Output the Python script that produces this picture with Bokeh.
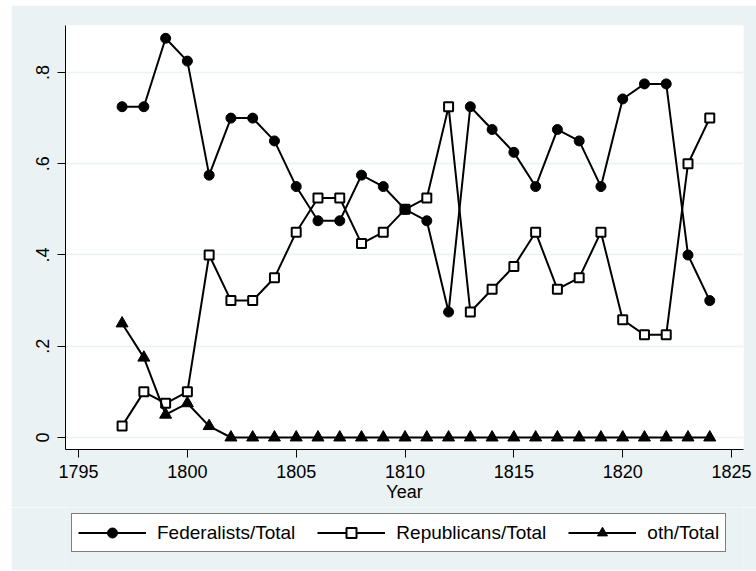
from bokeh.plotting import figure
from bokeh.models import Range1d, FixedTicker, Legend, LegendItem, ColumnDataSource
from bokeh.layouts import column
from bokeh.embed import file_html
from bokeh.resources import INLINE

years = [1797, 1798, 1799, 1800, 1801, 1802, 1803, 1804, 1805, 1806, 1807, 1808, 1809, 1810,
         1811, 1812, 1813, 1814, 1815, 1816, 1817, 1818, 1819, 1820, 1821, 1822, 1823, 1824]
federalists = [0.725, 0.725, 0.875, 0.825, 0.575, 0.70, 0.70, 0.65, 0.55, 0.475, 0.475, 0.575, 0.55, 0.50,
               0.475, 0.275, 0.725, 0.675, 0.625, 0.55, 0.675, 0.65, 0.55, 0.742, 0.775, 0.775, 0.40, 0.30]
republicans = [0.025, 0.10, 0.075, 0.10, 0.40, 0.30, 0.30, 0.35, 0.45, 0.525, 0.525, 0.425, 0.45, 0.50,
               0.525, 0.725, 0.275, 0.325, 0.375, 0.45, 0.325, 0.35, 0.45, 0.258, 0.225, 0.225, 0.60, 0.70]
others = [0.25, 0.175, 0.05, 0.075, 0.025, 0, 0, 0, 0, 0, 0, 0, 0, 0,
          0, 0, 0, 0, 0, 0, 0, 0, 0, 0, 0, 0, 0, 0]
series_names = ["Federalists/Total", "Republicans/Total", "oth/Total"]
x_ticks = [1795, 1800, 1805, 1810, 1815, 1820, 1825]
y_ticks = [0, 0.2, 0.4, 0.6, 0.8]
y_tick_labels = ["0", ".2", ".4", ".6", ".8"]
x_title = "Year"

BG = "#EAF2F3"
FONT = "Liberation Sans"

src = ColumnDataSource(dict(year=years, fed=federalists, rep=republicans, oth=others))


def add_series(fig):
    # Republicans first so that the Federalist circle covers the square at 1810
    rl = fig.line("year", "rep", source=src, line_color="black", line_width=2)
    rm = fig.scatter("year", "rep", source=src, marker="square", size=9,
                     fill_color="white", line_color="black", line_width=2)
    fl = fig.line("year", "fed", source=src, line_color="black", line_width=2)
    fm = fig.scatter("year", "fed", source=src, marker="circle", size=10,
                     fill_color="black", line_color="black")
    ol = fig.line("year", "oth", source=src, line_color="black", line_width=2)
    om = fig.scatter("year", "oth", source=src, marker="triangle", size=12,
                     fill_color="black", line_color="black")
    return (fl, fm), (rl, rm), (ol, om)


p = figure(width=745, height=502, output_backend="svg", toolbar_location=None,
           x_range=Range1d(1794.4, 1825.55), y_range=Range1d(-0.0263, 0.903),
           min_border_left=54, min_border_right=13, min_border_top=20, min_border_bottom=58)
p.margin = (5, 0, 0, 11)
p.border_fill_color = BG
p.background_fill_color = "white"
p.outline_line_color = None
add_series(p)

# axes
p.xaxis.ticker = FixedTicker(ticks=x_ticks)
p.yaxis.ticker = FixedTicker(ticks=y_ticks)
p.yaxis.major_label_overrides = {t: l for t, l in zip(y_ticks, y_tick_labels)}
p.yaxis.major_label_orientation = "vertical"
for ax in (p.xaxis[0], p.yaxis[0]):
    ax.axis_line_color = "black"
    ax.axis_line_width = 1
    ax.major_tick_line_color = "black"
    ax.major_tick_in = 0
    ax.major_tick_out = 8
    ax.minor_tick_line_color = None
    ax.major_label_text_font = FONT
    ax.major_label_text_font_size = "18px"
    ax.major_label_text_color = "black"
p.yaxis.major_label_standoff = 8
p.xaxis.major_label_standoff = 7
p.xaxis.axis_label = x_title
p.xaxis.axis_label_text_font = FONT
p.xaxis.axis_label_text_font_size = "18px"
p.xaxis.axis_label_text_font_style = "normal"
p.xaxis.axis_label_text_color = "black"
p.xaxis.axis_label_standoff = 1

p.xgrid.grid_line_color = None
p.ygrid.grid_line_color = BG
p.ygrid.grid_line_width = 1.5

# legend strip: a second figure whose view range holds none of the data,
# so only its legend is seen
q = figure(width=745, height=63, output_backend="svg", toolbar_location=None,
           x_range=Range1d(0, 1), y_range=Range1d(0, 1),
           x_axis_location=None, y_axis_location=None, min_border=0)
q.margin = (0, 0, 1, 11)
q.border_fill_color = BG
q.background_fill_color = BG
q.outline_line_color = None
q.grid.visible = False
fed_r, rep_r, oth_r = add_series(q)

legend = Legend(items=[
    LegendItem(label=series_names[0], renderers=list(fed_r)),
    LegendItem(label=series_names[1], renderers=list(rep_r)),
    LegendItem(label=series_names[2], renderers=list(oth_r)),
], orientation="horizontal", location=(6, 18))
legend.label_text_font = FONT
legend.label_text_font_size = "19px"
legend.label_text_color = "black"
legend.border_line_color = "black"
legend.border_line_width = 1
legend.background_fill_color = "white"
legend.background_fill_alpha = 1
legend.glyph_width = 68
legend.glyph_height = 25
legend.label_standoff = 11
legend.spacing = 22
legend.padding = 6
legend.margin = 0
q.add_layout(legend, "center")

layout = column(p, q, spacing=0)
open("out.html", "w").write(file_html(layout, INLINE))
